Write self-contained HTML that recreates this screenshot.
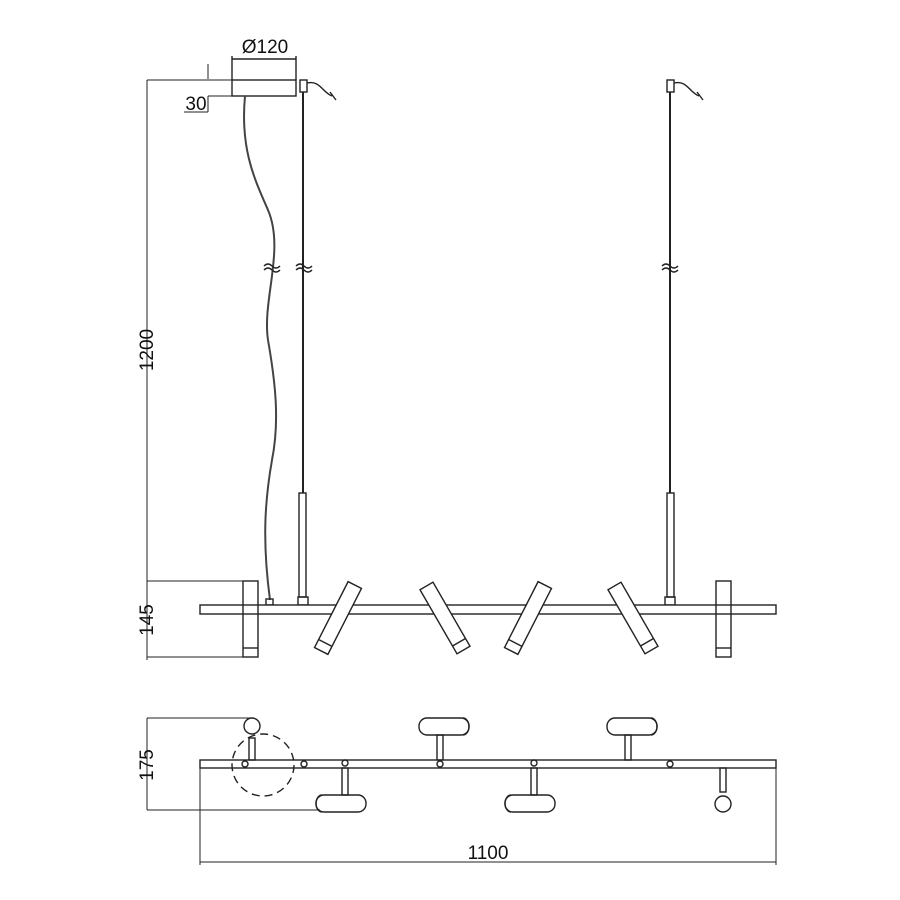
<!DOCTYPE html>
<html><head><meta charset="utf-8"><style>body{margin:0;background:#fff}svg{display:block}text{font-family:"Liberation Sans",sans-serif;fill:#111}</style></head><body>
<svg width="900" height="900" viewBox="0 0 900 900" xmlns="http://www.w3.org/2000/svg">
<g fill="none" stroke="#222" stroke-width="1.4">
<rect x="232" y="80" width="64" height="16"/>
<line x1="232" y1="80" x2="232" y2="56"/><line x1="296" y1="80" x2="296" y2="56"/>
<line x1="232" y1="59" x2="296" y2="59"/>
<line x1="147" y1="80" x2="232" y2="80" stroke-width="1"/>
<line x1="208" y1="64" x2="208" y2="79" stroke-width="1"/>
<line x1="208" y1="96" x2="232" y2="96" stroke-width="1"/>
<line x1="208" y1="96" x2="208" y2="112" stroke-width="1"/>
<line x1="184" y1="112" x2="208" y2="112" stroke-width="1"/>
<path d="M245 96 C240 150, 255 180, 268 210 C285 250, 262 300, 268 340 C275 380, 280 420, 272 460 C265 500, 262 540, 270 600" stroke="#444" stroke-width="2"/>
<rect x="266" y="599" width="7" height="6"/>
<line x1="303" y1="92" x2="303" y2="493" stroke-width="2"/>
<rect x="300" y="80" width="7" height="12"/>
<path d="M307 83 C320 80, 322 92, 332 96 M330 92 l6 8"/>
<rect x="299" y="493" width="7" height="104"/>
<rect x="298" y="597" width="10" height="8"/>
<line x1="670" y1="92" x2="670" y2="493" stroke-width="2"/>
<rect x="667" y="80" width="7" height="12"/>
<path d="M674 83 C687 80, 689 92, 699 96 M697 92 l6 8"/>
<rect x="667" y="493" width="7" height="104"/>
<rect x="665" y="597" width="10" height="8"/>
<path d="M264 266 q4 -4 8 0 t8 0 M264 270 q4 -4 8 0 t8 0 M296 266 q4 -4 8 0 t8 0 M296 270 q4 -4 8 0 t8 0 M662 266 q4 -4 8 0 t8 0 M662 270 q4 -4 8 0 t8 0"/>
<line x1="147" y1="80" x2="147" y2="660" stroke-width="1"/>
<line x1="147" y1="581" x2="243" y2="581" stroke-width="1"/>
<line x1="147" y1="657" x2="243" y2="657" stroke-width="1"/>
<rect x="200" y="605" width="576" height="9" fill="#fff"/>
<rect x="243" y="581" width="15" height="76"/><line x1="243" y1="648" x2="258" y2="648"/>
<rect x="716" y="581" width="15" height="76"/><line x1="716" y1="648" x2="731" y2="648"/>
<g transform="translate(338,618) rotate(27)"><rect x="-7.5" y="-37" width="15" height="74" fill="#fff"/><line x1="-7.5" y1="28" x2="7.5" y2="28"/></g>
<g transform="translate(445,618) rotate(-30)"><rect x="-7.5" y="-37" width="15" height="74" fill="#fff"/><line x1="-7.5" y1="28" x2="7.5" y2="28"/></g>
<g transform="translate(528,618) rotate(27)"><rect x="-7.5" y="-37" width="15" height="74" fill="#fff"/><line x1="-7.5" y1="28" x2="7.5" y2="28"/></g>
<g transform="translate(633,618) rotate(-30)"><rect x="-7.5" y="-37" width="15" height="74" fill="#fff"/><line x1="-7.5" y1="28" x2="7.5" y2="28"/></g>
<line x1="147" y1="718" x2="147" y2="810" stroke-width="1"/>
<line x1="147" y1="718" x2="250" y2="718" stroke-width="1"/>
<line x1="147" y1="810" x2="320" y2="810" stroke-width="1"/>
<line x1="200" y1="768" x2="200" y2="865" stroke-width="1"/>
<line x1="776" y1="768" x2="776" y2="865" stroke-width="1"/>
<line x1="200" y1="862" x2="776" y2="862" stroke-width="1"/>
<rect x="200" y="760" width="576" height="8" fill="#fff"/>
<circle cx="263" cy="765" r="31" stroke-dasharray="8,5"/>
<circle cx="252" cy="726" r="8"/><rect x="249" y="738" width="6" height="22"/>
<circle cx="245" cy="764" r="3"/><circle cx="304" cy="764" r="3"/>
<circle cx="440" cy="764" r="3"/><circle cx="670" cy="764" r="3"/>
<circle cx="345" cy="763" r="3"/><circle cx="534" cy="763" r="3"/>
<rect x="419" y="718" width="50" height="17" rx="8"/><path d="M463 718 a6 8.5 0 0 1 0 17"/><rect x="437" y="735" width="6" height="25"/>
<rect x="607" y="718" width="50" height="17" rx="8"/><path d="M651 718 a6 8.5 0 0 1 0 17"/><rect x="625" y="735" width="6" height="25"/>
<rect x="316" y="795" width="50" height="17" rx="8"/><path d="M322 795 a6 8.5 0 0 0 0 17"/><rect x="342" y="768" width="6" height="27"/>
<rect x="505" y="795" width="50" height="17" rx="8"/><path d="M511 795 a6 8.5 0 0 0 0 17"/><rect x="531" y="768" width="6" height="27"/>
<rect x="720" y="768" width="6" height="24"/><circle cx="723" cy="804" r="8"/>
</g>
<g font-size="19">
<text x="265" y="53" text-anchor="middle">Ø120</text>
<text x="196" y="110" text-anchor="middle">30</text>
<text x="488" y="859" text-anchor="middle">1100</text>
<text transform="translate(153,350) rotate(-90)" text-anchor="middle">1200</text>
<text transform="translate(153,620) rotate(-90)" text-anchor="middle">145</text>
<text transform="translate(153,765) rotate(-90)" text-anchor="middle">175</text>
</g>
</svg>
</body></html>
